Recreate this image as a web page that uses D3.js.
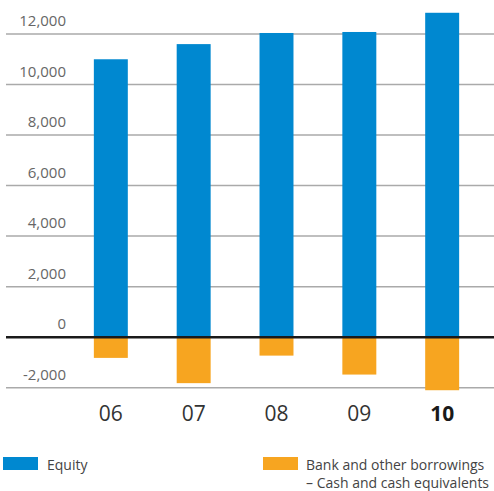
<!DOCTYPE html>
<html>
<head>
<meta charset="utf-8">
<script src="https://cdn.jsdelivr.net/npm/d3@7"></script>
<style>
  body { margin: 0; background: #fff; }
  text { font-family: "Open Sans", sans-serif; }
</style>
</head>
<body>
<svg id="chart" width="494" height="491"></svg>
<script>
// chart values
var years = ['06', '07', '08', '09', '10'];
var equity = [11000, 11600, 12040, 12080, 12840];
var netDebt = [-820, -1820, -730, -1480, -2100];
var yTicks = [-2000, 0, 2000, 4000, 6000, 8000, 10000, 12000];
var legendLabels = ['Equity', 'Bank and other borrowings', '\u2013 Cash and cash equivalents'];

var BLUE = '#0088d0',
    ORANGE = '#f7a520';

var svg = d3.select('svg#chart');

var xScale = d3.scaleBand().domain(years).range([69, 484]).paddingInner(0.59).paddingOuter(0.3);
var yScale = d3.scaleLinear().domain([-2000, 12000]).range([387.7, 34]);

// gridlines + labels
var yAxis = d3.axisLeft(yScale).tickValues(yTicks).tickSize(0)
    .tickFormat(function(d) { return d3.format(',')(d).replace('−', '-'); });

var grid = svg.append('g').attr('class', 'grid');
grid.selectAll('line').data(yTicks.filter(function(d) { return d !== 0; })).enter().append('line')
    .attr('x1', 6).attr('x2', 494)
    .attr('y1', function(d) { return yScale(d); })
    .attr('y2', function(d) { return yScale(d); })
    .style('stroke', '#aaaaaa')
    .style('stroke-width', '1.5px');

var axisG = svg.append('g').attr('transform', 'translate(66,0)').call(yAxis);
axisG.select('.domain').remove();
axisG.selectAll('text')
    .attr('x', 0)
    .attr('dy', '-0.55em')
    .style('font-size', '15px')
    .style('fill', '#666')
    .style('font-family', '"Open Sans", sans-serif');

// bars
svg.selectAll('.bar-equity').data(equity).enter().append('rect')
    .attr('class', 'bar-equity')
    .attr('x', function(d, i) { return xScale(years[i]); })
    .attr('width', xScale.bandwidth())
    .attr('y', function(d) { return yScale(d); })
    .attr('height', function(d) { return yScale(0) - yScale(d); })
    .style('fill', BLUE);

svg.selectAll('.bar-debt').data(netDebt).enter().append('rect')
    .attr('class', 'bar-debt')
    .attr('x', function(d, i) { return xScale(years[i]); })
    .attr('width', xScale.bandwidth())
    .attr('y', yScale(0))
    .attr('height', function(d) { return yScale(d) - yScale(0); })
    .style('fill', ORANGE);

// zero line
svg.append('line')
    .attr('x1', 6).attr('x2', 494)
    .attr('y1', yScale(0)).attr('y2', yScale(0))
    .style('stroke', '#1a1a1a')
    .style('stroke-width', '2.5px');

// x labels
svg.selectAll('.xlabel').data(years).enter().append('text')
    .attr('class', 'xlabel')
    .attr('x', function(d) { return xScale(d) + xScale.bandwidth() / 2; })
    .attr('y', 421)
    .attr('text-anchor', 'middle')
    .style('font-size', '21px')
    .style('font-weight', function(d, i) { return i === years.length - 1 ? 'bold' : 'normal'; })
    .style('fill', function(d, i) { return i === years.length - 1 ? '#1a1a1a' : '#333'; })
    .text(function(d) { return d; });

// legend
var legend = svg.append('g').attr('class', 'legend');
legend.append('rect').attr('x', 3).attr('y', 457).attr('width', 35).attr('height', 13).style('fill', BLUE);
legend.append('text').attr('x', 47).attr('y', 470).style('font-size', '14px').style('fill', '#444').text(legendLabels[0]);
legend.append('rect').attr('x', 263).attr('y', 457).attr('width', 35).attr('height', 13).style('fill', ORANGE);
legend.append('text').attr('x', 306).attr('y', 470).style('font-size', '14px').style('fill', '#444').text(legendLabels[1]);
legend.append('text').attr('x', 306).attr('y', 488).style('font-size', '14px').style('fill', '#444').text(legendLabels[2]);
</script>
</body>
</html>
